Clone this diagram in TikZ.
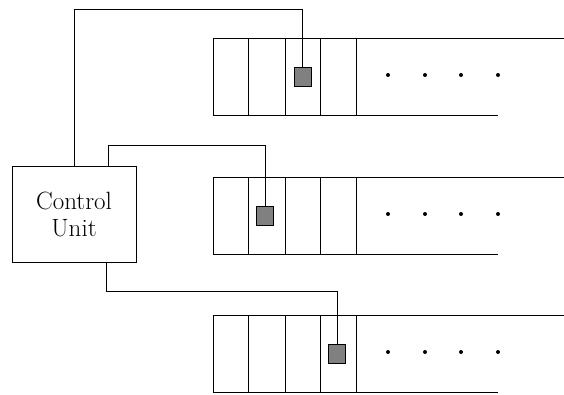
\documentclass[tikz,border=0pt]{standalone}
\usepackage{fontspec}
\usepackage{tikz}

\begin{document}
\begin{tikzpicture}[x=1pt, y=-1pt, line width=1pt,
	head/.style={draw, fill=gray, minimum width=17pt, minimum height=19pt, inner sep=0pt},
	unit/.style={draw, minimum width=124pt, minimum height=96pt, inner sep=0pt,
		align=center, font=\fontsize{25}{27}\selectfont}]
	\useasboundingbox (0,0) rectangle (564,394);

	\node [unit] (cu) at (74,214) {Control\\Unit};

	% tapes: top edge, head position, name
	\foreach \t/\c/\n in {38/302.5/1, 177/265/2, 315/337/3} {
		\draw (564,\t) -- (213,\t) -- (213,\t+77) -- (498,\t+77);
		\foreach \x in {248,285,320,356}
			\draw (\x,\t) -- (\x,\t+77);
		\foreach \x in {388,425,461,498}
			\fill (\x,\t+37) circle (2pt);
		\node [head] (h\n) at (\c,\t+38.5) {};
	}

	\coordinate (b1) at (0,9);
	\coordinate (b2) at (0,145);
	\coordinate (b3) at (0,291);

	\draw (cu.north) |- (b1 -| h1.north) -- (h1.north);
	\draw ([xshift=34pt]cu.north) |- (b2 -| h2.north) -- (h2.north);
	\draw ([xshift=32pt]cu.south) |- (b3 -| h3.north) -- (h3.north);
\end{tikzpicture}
\end{document}
